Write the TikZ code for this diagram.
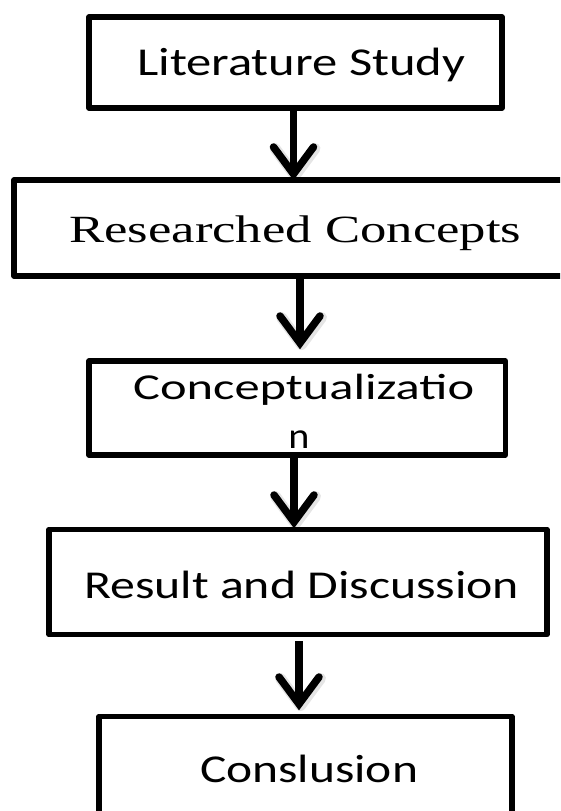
\documentclass[tikz,border=0pt]{standalone}
\usepackage{fontspec}
\usepackage{graphicx}
\setmainfont{Carlito}
\newfontfamily\serifb{Liberation Serif}
\usetikzlibrary{calc}
\newcommand\calsz{\fontsize{39.5}{44}\selectfont}
\newcommand\consz{\fontsize{36.5}{40}\selectfont}
\newcommand\sersz{\fontsize{38.5}{42}\selectfont}
\begin{document}
\begin{tikzpicture}[x=1pt,y=-1pt,
  stepbox/.style={draw=black, line width=5.2pt, line join=round, inner sep=0pt, fill=none},
  lbl/.style={inner sep=0pt, anchor=base west, text=black},
  shaft/.style={line width=7.5pt, draw=black},
  chev/.style={line width=7.5pt, draw=black, line cap=round, line join=miter},
  shade/.style={line width=11pt, draw=black, opacity=0.10, line cap=round, line join=round}]
\useasboundingbox (0,0) rectangle (560,811);
\clip (0,0) rectangle (560,811);
\fill[white] (0,0) rectangle (560,811);

% boxes
\node[stepbox, line width=5.6pt, minimum width=413pt, minimum height=91pt] (b1) at (295.5,62.5) {};
\node[stepbox, minimum width=560pt, minimum height=96pt] (b2) at (294,228) {};
\node[stepbox, minimum width=416.5pt, minimum height=94pt] (b3) at (297.25,408) {};
\node[stepbox, line width=5.6pt, minimum width=498pt, minimum height=105pt] (b4) at (298,582) {};
\node[stepbox, line width=5.6pt, minimum width=413pt, minimum height=106.5pt] (b5) at (305.5,769.75) {};

% labels
\node[lbl] (l1) at (137,75) {\calsz\resizebox{328pt}{\height}{Literature Study}};
\node[lbl] (l2) at (69,242) {\serifb\sersz\resizebox{452pt}{\height}{Researched Concepts}};
\node[lbl] (l3) at (133,399) {\consz\resizebox{341pt}{\height}{Conceptualizatio}};
\node[inner sep=0pt, anchor=base] (l3b) at (299,448) {\consz\scalebox{1.1}[1]{n}};
\node[lbl] (l4) at (84,598) {\calsz\resizebox{435pt}{\height}{Result and Discussion}};
\node[lbl] (l5) at (200,782) {\calsz\resizebox{218pt}{\height}{Conslusion}};

% arrow tips
\coordinate (t1) at (293.5,174);
\coordinate (t2) at (300,343);
\coordinate (t3) at (294,522);
\coordinate (t4) at (299,704);
\coordinate (s4) at (299,641);

% soft shadows
\draw[shade] ($(t1)+(-20,-27)+(1.5,1.5)$) -- ($(t1)+(1.5,1.5)$) -- ($(t1)+(20,-27)+(1.5,1.5)$);
\draw[shade] ($(t2)+(-20,-27)+(1.5,1.5)$) -- ($(t2)+(1.5,1.5)$) -- ($(t2)+(20,-27)+(1.5,1.5)$);
\draw[shade] ($(t3)+(-20,-27)+(1.5,1.5)$) -- ($(t3)+(1.5,1.5)$) -- ($(t3)+(20,-27)+(1.5,1.5)$);
\draw[shade] ($(t4)+(-20,-27)+(1.5,1.5)$) -- ($(t4)+(1.5,1.5)$) -- ($(t4)+(20,-27)+(1.5,1.5)$);

% connectors
\draw[shaft] (b1.south -| t1) -- (t1);
\draw[chev] ($(t1)+(-20,-27)$) -- (t1) -- ($(t1)+(20,-27)$);
\draw[shaft] (b2.south -| t2) -- (t2);
\draw[chev] ($(t2)+(-20,-27)$) -- (t2) -- ($(t2)+(20,-27)$);
\draw[shaft] (b3.south -| t3) -- (t3);
\draw[chev] ($(t3)+(-20,-27)$) -- (t3) -- ($(t3)+(20,-27)$);
\draw[shaft] (s4) -- (t4);
\draw[chev] ($(t4)+(-20,-27)$) -- (t4) -- ($(t4)+(20,-27)$);
\end{tikzpicture}
\end{document}
